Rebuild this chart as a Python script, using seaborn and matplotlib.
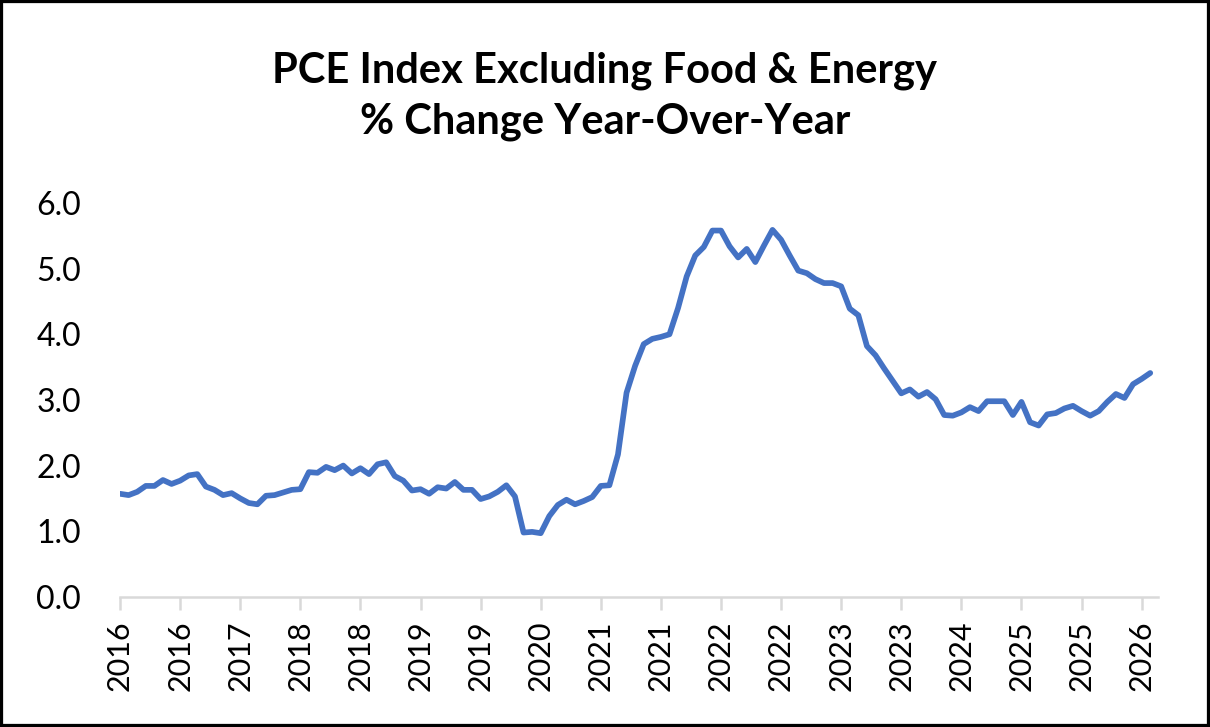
import matplotlib
matplotlib.use("Agg")
import matplotlib.pyplot as plt
from matplotlib.patches import Rectangle
import seaborn as sns
import pandas as pd

# monthly core PCE y/y % change, starting May 2016
start_month = "2016-05-01"
core_pce = [
    1.57, 1.55, 1.60, 1.69, 1.69, 1.78, 1.72, 1.77, 1.85, 1.87, 1.68, 1.63,
    1.55, 1.58, 1.50, 1.43, 1.41, 1.54, 1.55, 1.59, 1.63, 1.64, 1.90, 1.89,
    1.98, 1.93, 2.00, 1.88, 1.96, 1.87, 2.02, 2.05, 1.84, 1.77, 1.62, 1.64,
    1.57, 1.67, 1.65, 1.75, 1.63, 1.63, 1.49, 1.53, 1.60, 1.70, 1.53, 0.98,
    0.99, 0.97, 1.23, 1.40, 1.48, 1.41, 1.46, 1.52, 1.69, 1.70, 2.17, 3.11,
    3.52, 3.85, 3.93, 3.96, 4.00, 4.40, 4.88, 5.20, 5.33, 5.58, 5.58, 5.34,
    5.17, 5.30, 5.10, 5.35, 5.59, 5.44, 5.20, 4.97, 4.93, 4.84, 4.78, 4.78,
    4.73, 4.39, 4.29, 3.82, 3.68, 3.48, 3.29, 3.10, 3.16, 3.05, 3.12, 3.01,
    2.77, 2.76, 2.81, 2.89, 2.83, 2.98, 2.98, 2.98, 2.77, 2.97, 2.66, 2.61,
    2.78, 2.80, 2.87, 2.91, 2.83, 2.76, 2.83, 2.97, 3.09, 3.03, 3.24, 3.32,
    3.41,
]
tick_every = 7
tick_labels = ["2016", "2016", "2017", "2018", "2018", "2019", "2019", "2020", "2021",
               "2021", "2022", "2022", "2023", "2023", "2024", "2025", "2025", "2026"]
y_ticks = [0, 1, 2, 3, 4, 5, 6]

df = pd.DataFrame({
    "month": pd.date_range(start_month, periods=len(core_pce), freq="MS"),
    "value": core_pce,
})
df["idx"] = range(len(df))

sns.set_style("white")
plt.rcParams["font.family"] = ["Lato", "DejaVu Sans"]
plt.rcParams["text.color"] = "black"
plt.rcParams["xtick.labelcolor"] = "black"
plt.rcParams["ytick.labelcolor"] = "black"

fig = plt.figure(figsize=(12.1, 7.27), dpi=100)
ax = fig.add_axes([0.0992, 0.179, 0.8578, 0.5418])

sns.lineplot(data=df, x="idx", y="value", color="#4472C4", linewidth=4.1, ax=ax)

ax.set_xlim(0, 120.9)
ax.set_ylim(0, 6)
ax.set_xticks(list(range(0, len(core_pce), tick_every)))
ax.set_xticklabels(tick_labels, rotation=90, fontsize=22, color="black")
ax.set_yticks(y_ticks)
ax.set_yticklabels([f"{v:.1f}" for v in y_ticks], fontsize=23, color="black")
ax.set_xlabel("")
ax.set_ylabel("")

for side in ["top", "right", "left"]:
    ax.spines[side].set_visible(False)
ax.spines["bottom"].set_color("#d9d9d9")
ax.spines["bottom"].set_linewidth(1.8)
ax.tick_params(axis="x", length=9, width=1.8, color="#d9d9d9", pad=8, bottom=True)
ax.tick_params(axis="y", length=0, pad=28)

fig.text(0.5, 1 - 96 / 727, "PCE Index Excluding Food & Energy\n% Change Year-Over-Year",
         ha="center", va="center", fontsize=30, fontweight="bold", linespacing=1.4,
         color="black")

fig.add_artist(Rectangle((0, 0), 1, 1, transform=fig.transFigure, fill=False,
                         edgecolor="black", linewidth=4.5))

fig.savefig("out.png", dpi=100)
